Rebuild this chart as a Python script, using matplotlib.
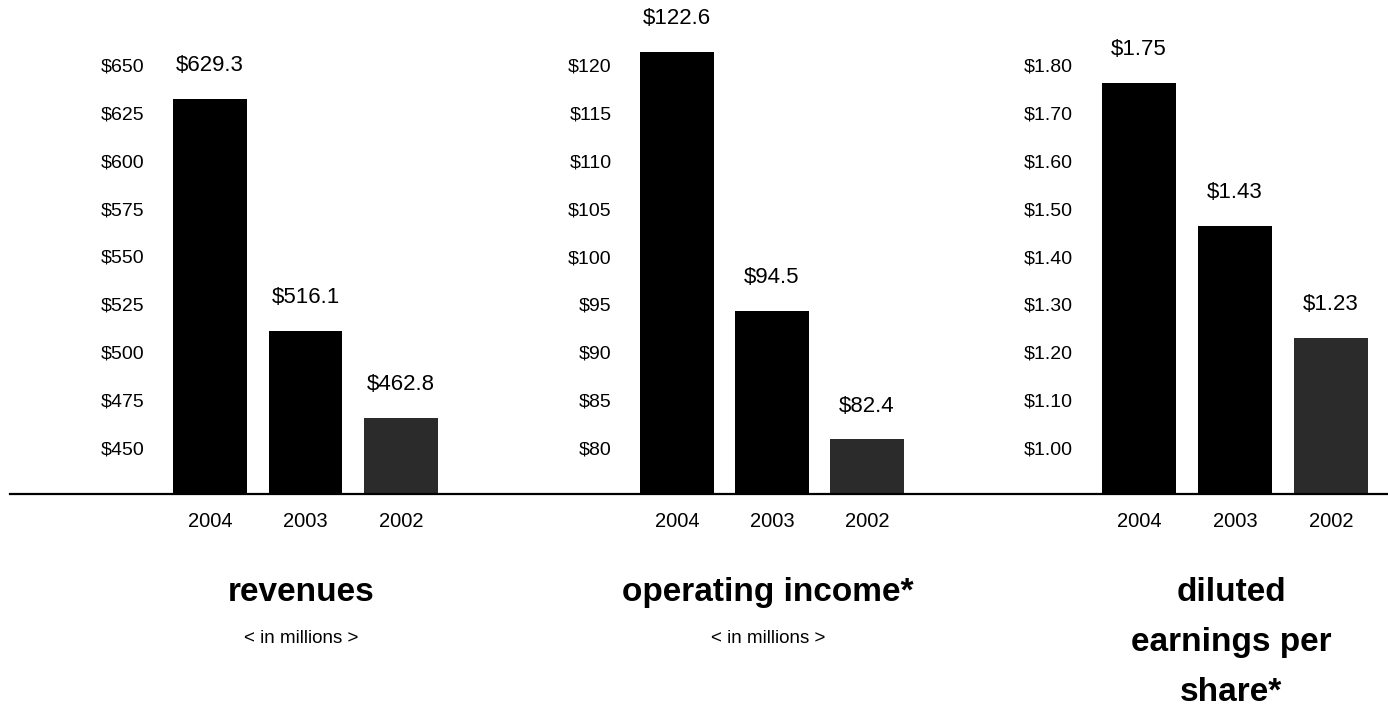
import matplotlib
matplotlib.use("Agg")
import matplotlib.pyplot as plt
from matplotlib.lines import Line2D

plt.rcParams['font.family'] = ['Liberation Sans', 'DejaVu Sans']

# data
years = ['2004', '2003', '2002']

# printed values and the bar heights as drawn in the picture
rev_labels = ['$629.3', '$516.1', '$462.8']
rev_bars = [632.2, 511.1, 465.7]
rev_ticks = [450, 475, 500, 525, 550, 575, 600, 625, 650]

op_labels = ['$122.6', '$94.5', '$82.4']
op_bars = [121.4, 94.3, 80.9]
op_ticks = [80, 85, 90, 95, 100, 105, 110, 115, 120]

eps_labels = ['$1.75', '$1.43', '$1.23']
eps_bars = [1.762, 1.464, 1.230]
eps_ticks = [1.00, 1.10, 1.20, 1.30, 1.40, 1.50, 1.60, 1.70, 1.80]

W, H = 1388, 706
fig = plt.figure(figsize=(W / 100, H / 100), dpi=100)

bar_colors = ['#000000', '#000000', '#2b2b2b']

# panel setup: left px, spacing px, ylim, bars, labels, ticks, tick format
panels = [
    (152.7, 95.5, (425.98, 683.94), rev_bars, rev_labels, rev_ticks, '${:.0f}'),
    (620.0, 95.0, (75.196, 126.79), op_bars, op_labels, op_ticks, '${:.0f}'),
    (1081.4, 96.0, (0.9039, 1.9358), eps_bars, eps_labels, eps_ticks, '${:.2f}'),
]

base_px = 494
axes = []
for left, sp, ylim, vals, labels, ticks, tfmt in panels:
    ax = fig.add_axes([left / W, (H - base_px) / H, 3.2 * sp / W, base_px / H])
    x = range(len(vals))
    ax.bar(x, vals, width=0.77, color=bar_colors)
    ax.set_xlim(-0.6, 2.6)
    ax.set_ylim(*ylim)
    ax.set_yticks(ticks)
    ax.set_yticklabels([tfmt.format(t) for t in ticks], fontsize=14)
    ax.set_xticks(list(x))
    ax.set_xticklabels(years, fontsize=14.5)
    ax.tick_params(axis='y', length=0, pad=6)
    ax.tick_params(axis='x', length=0, pad=13)
    for s in ax.spines.values():
        s.set_visible(False)
    for i, v in enumerate(vals):
        ax.annotate(labels[i], (i, v), xytext=(0, 24), textcoords='offset points',
                    ha='center', va='center', fontsize=16, annotation_clip=False)
    axes.append(ax)

# baseline across the whole figure
fig.add_artist(Line2D([10 / W, 1.0], [(H - base_px) / H] * 2, color='black', lw=1.6,
                      transform=fig.transFigure))


def center_x(ax):
    p = ax.get_position()
    return p.x0 + p.width / 2


titles = [
    (axes[0], ['revenues'], '< in millions >'),
    (axes[1], ['operating income*'], '< in millions >'),
    (axes[2], ['diluted', 'earnings per', 'share*'], None),
]
for ax, lines, sub in titles:
    cx = center_x(ax) - 4 / W
    for k, line in enumerate(lines):
        fig.text(cx, 1 - (601 + 50 * k) / H, line, ha='center', va='baseline',
                 fontsize=24, fontweight='bold')
    if sub:
        fig.text(cx, 1 - 643 / H, sub, ha='center', va='baseline', fontsize=13.5)

fig.savefig('out.png', dpi=100, facecolor='white')
